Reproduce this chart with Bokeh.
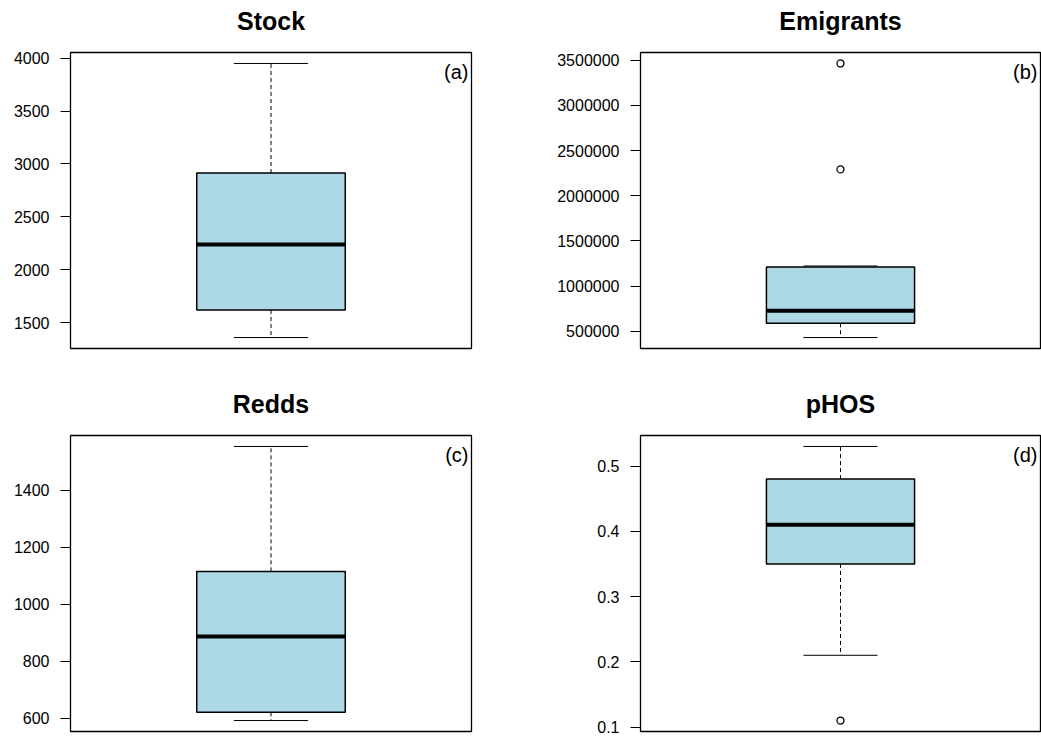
from bokeh.plotting import figure
from bokeh.layouts import column, row
from bokeh.models import Range1d, FixedTicker, PrintfTickFormatter, Label, Title
from bokeh.embed import file_html
from bokeh.resources import INLINE

# ---- data -------------------------------------------------------------
panel_titles = ["Stock", "Emigrants", "Redds", "pHOS"]
panel_tags = ["(a)", "(b)", "(c)", "(d)"]

# lower whisker, Q1, median, Q3, upper whisker
stock_stats = [1360, 1620, 2240, 2915, 3950]
stock_outliers = []
emigrants_stats = [430000, 588000, 728000, 1212000, 1222000]
emigrants_outliers = [2292000, 3465000]
redds_stats = [592, 621, 887, 1115, 1553]
redds_outliers = []
phos_stats = [0.21, 0.35, 0.41, 0.48, 0.53]
phos_outliers = [0.11]

stock_ticks = [1500, 2000, 2500, 3000, 3500, 4000]
emigrants_ticks = [500000, 1000000, 1500000, 2000000, 2500000, 3000000, 3500000]
redds_ticks = [600, 800, 1000, 1200, 1400]
phos_ticks = [0.1, 0.2, 0.3, 0.4, 0.5]

FONT = "Liberation Sans"
BOX_FILL = "#ADD8E6"


def make_panel(title, tag, stats, outliers, ticks, fmt,
               left, right, top, bottom, fw, fh):
    lo_w, q1, med, q3, hi_w = stats
    allv = list(stats) + list(outliers)
    vmin, vmax = min(allv), max(allv)
    pad = 0.04 * (vmax - vmin)
    p = figure(output_backend="svg", toolbar_location=None,
               frame_width=fw, frame_height=fh,
               min_border_left=left, min_border_right=right,
               min_border_top=top, min_border_bottom=bottom,
               x_range=Range1d(0.46, 1.54),
               y_range=Range1d(vmin - pad, vmax + pad),
               x_axis_location=None, tools="")
    p.background_fill_color = "white"
    p.border_fill_color = "white"
    p.xgrid.grid_line_color = None
    p.ygrid.grid_line_color = None
    p.outline_line_color = "black"
    p.outline_line_width = 1.3
    p.outline_line_alpha = 1.0

    p.title = Title(text=title, align="center", text_font=FONT,
                    text_font_size="25px", text_font_style="bold",
                    text_color="black", standoff=0,
                    padding=dict(left=0, right=0, top=0, bottom=18))

    ax = p.yaxis[0]
    ax.ticker = FixedTicker(ticks=ticks)
    ax.formatter = PrintfTickFormatter(format=fmt)
    ax.axis_line_color = None
    ax.major_tick_out = 10
    ax.major_tick_in = 0
    ax.major_tick_line_color = "black"
    ax.major_tick_line_width = 1
    ax.minor_tick_line_color = None
    ax.major_label_standoff = 11
    ax.major_label_text_font = FONT
    ax.major_label_text_font_size = "16px"
    ax.major_label_text_color = "black"

    cx = 1.0
    bw = 0.4
    sw = 0.2
    # whiskers
    p.segment(x0=[cx, cx], x1=[cx, cx], y0=[q3, q1], y1=[hi_w, lo_w],
              line_color="black", line_width=1, line_dash="4 3")
    # staples
    p.segment(x0=[cx - sw / 2, cx - sw / 2], x1=[cx + sw / 2, cx + sw / 2],
              y0=[hi_w, lo_w], y1=[hi_w, lo_w], line_color="black", line_width=1)
    # box
    p.vbar(x=[cx], width=bw, bottom=[q1], top=[q3], fill_color=BOX_FILL,
           line_color="black", line_width=1.5)
    # median
    p.segment(x0=[cx - bw / 2], x1=[cx + bw / 2], y0=[med], y1=[med],
              line_color="black", line_width=4)
    # outliers
    if outliers:
        p.scatter(x=[cx] * len(outliers), y=outliers, marker="circle", size=7,
                  fill_color=None, line_color="black", line_width=1.3)

    # panel tag in the top-right corner
    p.add_layout(Label(x=fw - 3, y=fh - 8, x_units="screen", y_units="screen",
                       text=tag, text_align="right", text_baseline="top",
                       text_font=FONT, text_font_size="20px", text_color="black"))
    return p


pa = make_panel(panel_titles[0], panel_tags[0], stock_stats, stock_outliers,
                stock_ticks, "%d", 70, 49, 52, 32, 401, 296)
pb = make_panel(panel_titles[1], panel_tags[1], emigrants_stats, emigrants_outliers,
                emigrants_ticks, "%d", 120, 1, 52, 32, 400, 296)
pc = make_panel(panel_titles[2], panel_tags[2], redds_stats, redds_outliers,
                redds_ticks, "%d", 70, 49, 55, 4, 401, 296)
pd_ = make_panel(panel_titles[3], panel_tags[3], phos_stats, phos_outliers,
                 phos_ticks, "%.1f", 120, 1, 55, 4, 400, 296)

layout = column(row(pa, pb, spacing=0), row(pc, pd_, spacing=0), spacing=0)

with open("out.html", "w") as f:
    f.write(file_html(layout, INLINE))
